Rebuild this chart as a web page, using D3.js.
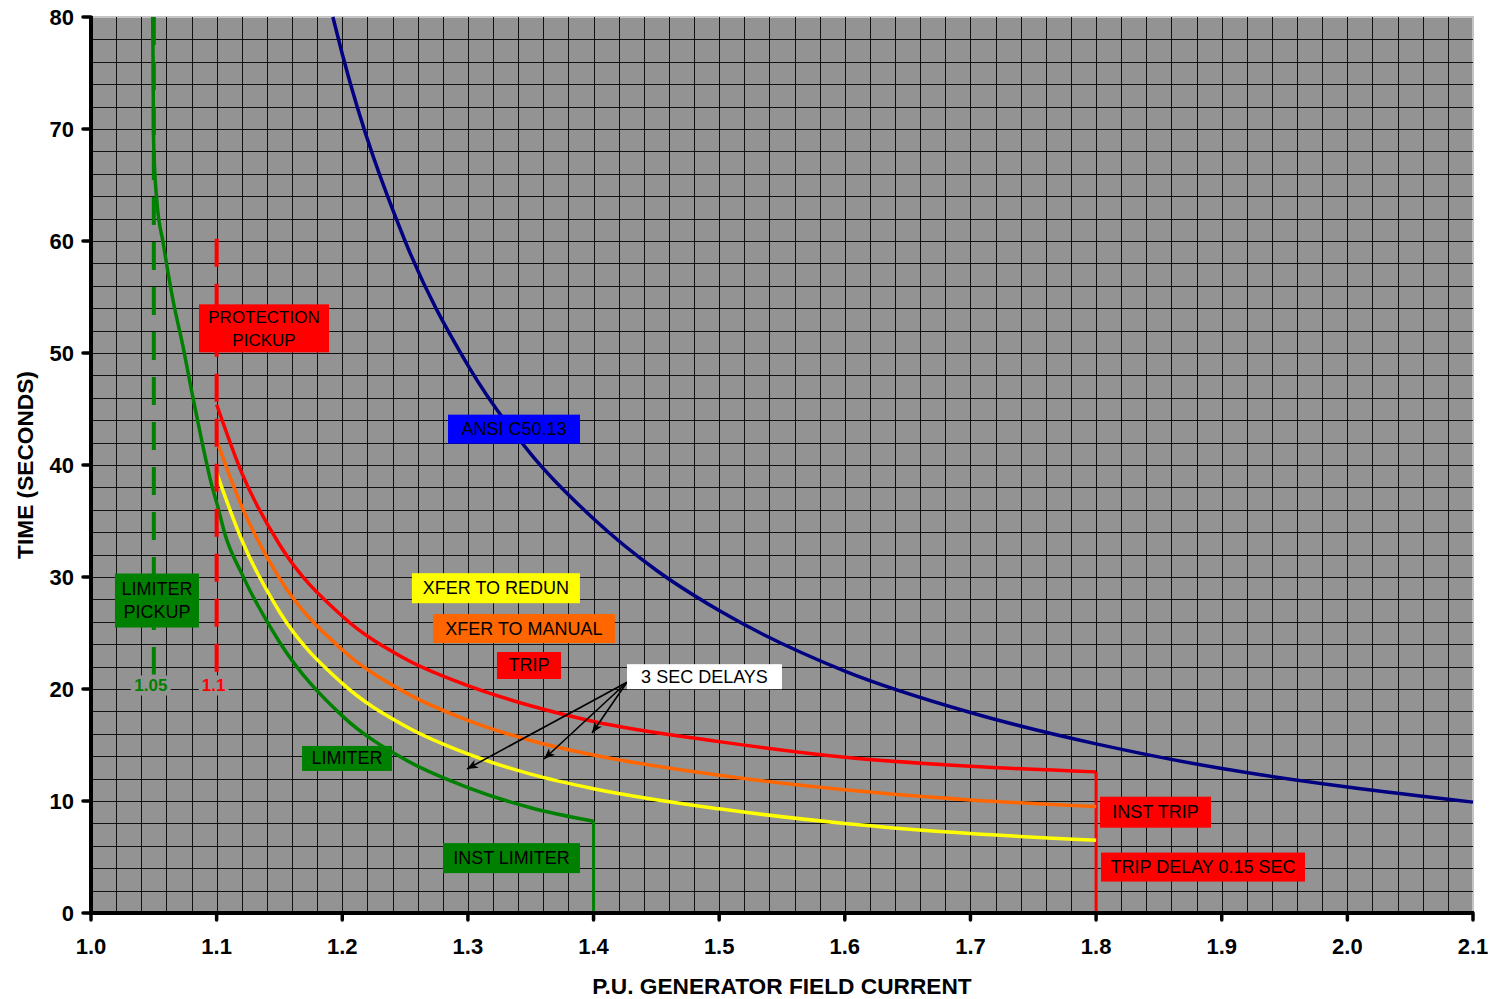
<!DOCTYPE html>
<html>
<head>
<meta charset="utf-8">
<script src="https://cdn.jsdelivr.net/npm/d3@7/dist/d3.min.js"></script>
<style>
  body { margin: 0; background: #fff; }
  text { font-family: Arial, "Liberation Sans", sans-serif; }
</style>
</head>
<body>
<svg width="1490" height="999"></svg>
<script>
// axis ticks
var xTicks = [1.0, 1.1, 1.2, 1.3, 1.4, 1.5, 1.6, 1.7, 1.8, 1.9, 2.0, 2.1];
var yTicks = [0, 10, 20, 30, 40, 50, 60, 70, 80];

// curves, [p.u. current, seconds]
var ansiC5013 = [[1.1925, 80], [1.2, 76.7], [1.25, 60.0], [1.3, 48.9], [1.35, 41.0], [1.4, 35.2],
  [1.45, 30.6], [1.5, 27.0], [1.6, 21.6], [1.7, 17.9], [1.8, 15.1], [1.9, 12.9], [2.0, 11.25], [2.1, 9.9]];
var limiter = [[1.0491, 80], [1.0494, 76], [1.0498, 69], [1.0523, 63.7], [1.0575, 59.8], [1.0653, 54.7],
  [1.0732, 50.6], [1.0801, 46.6], [1.0881, 42.2], [1.0961, 38.2], [1.1011, 36.2], [1.1067, 33.8],
  [1.12, 30.3], [1.15, 24.2], [1.2, 17.6], [1.25, 13.7], [1.3, 11.2], [1.35, 9.4], [1.4, 8.2]];
var xferRedun = [[1.1, 39.3], [1.12, 33.3], [1.15, 26.9], [1.2, 20.5], [1.25, 16.7], [1.3, 14.2],
  [1.35, 12.4], [1.4, 11.1], [1.5, 9.3], [1.6, 8.0], [1.7, 7.1], [1.8, 6.5]];
var xferManual = [[1.1, 42.2], [1.12, 36.3], [1.15, 29.9], [1.2, 23.5], [1.25, 19.7], [1.3, 17.2],
  [1.35, 15.4], [1.4, 14.1], [1.5, 12.3], [1.6, 11.0], [1.7, 10.1], [1.8, 9.5]];
var trip = [[1.1, 45.4], [1.12, 39.3], [1.15, 32.9], [1.2, 26.5], [1.25, 22.7], [1.3, 20.3],
  [1.35, 18.5], [1.4, 17.1], [1.5, 15.3], [1.6, 13.9], [1.7, 13.1], [1.8, 12.6]];

// pickup markers
var pickups = [
  { x: 1.05, top: 80, bottom: 21.3, label: "1.05", color: "#008000" },
  { x: 1.1, top: 60.2, bottom: 21.3, label: "1.1", color: "#ff0000" }
];

// text boxes (centre in data units)
var notes = [
  { lines: ["PROTECTION", "PICKUP"], x: 1.1377, y: 52.2, w: 130, h: 48, fill: "#ff0000", size: 17 },
  { lines: ["ANSI C50.13"], x: 1.3367, y: 43.2, w: 132, h: 29, fill: "#0000ff", size: 18 },
  { lines: ["LIMITER", "PICKUP"], x: 1.0525, y: 27.9, w: 84, h: 54, fill: "#008000", size: 18 },
  { lines: ["XFER TO REDUN"], x: 1.3223, y: 29.0, w: 168, h: 30, fill: "#ffff00", size: 18 },
  { lines: ["XFER TO MANUAL"], x: 1.3446, y: 25.4, w: 182, h: 29, fill: "#ff6600", size: 18 },
  { lines: ["TRIP"], x: 1.3486, y: 22.1, w: 64, h: 27, fill: "#ff0000", size: 18 },
  { lines: ["3 SEC DELAYS"], x: 1.4883, y: 21.1, w: 155, h: 25, fill: "#ffffff", size: 18 },
  { lines: ["LIMITER"], x: 1.2038, y: 13.8, w: 90, h: 25, fill: "#008000", size: 18 },
  { lines: ["INST LIMITER"], x: 1.3347, y: 4.9, w: 137, h: 30, fill: "#008000", size: 18 },
  { lines: ["INST TRIP"], x: 1.8473, y: 9.0, w: 111, h: 31, fill: "#ff0000", size: 18 },
  { lines: ["TRIP DELAY 0.15 SEC"], x: 1.8851, y: 4.1, w: 204, h: 29, fill: "#ff0000", size: 18 }
];

var arrowFrom = [1.4266, 20.6];
var arrowTo = [[1.2993, 12.86], [1.3606, 13.75], [1.3988, 16.07]];

var svg = d3.select("svg"),
    margin = { top: 17, right: 17, bottom: 86, left: 91 },
    width = 1490 - margin.left - margin.right,
    height = 999 - margin.top - margin.bottom;

var x = d3.scaleLinear().domain([1.0, 2.1]).range([0, width]);
var y = d3.scaleLinear().domain([0, 80]).range([height, 0]);

var g = svg.append("g").attr("transform", "translate(" + margin.left + "," + margin.top + ")");

g.append("rect")
  .attr("width", width)
  .attr("height", height)
  .attr("fill", "#939393")
  .attr("stroke", "#c4c4c4")
  .attr("stroke-width", 2);

// grid, 0.02 p.u. by 2 s
g.append("g").selectAll("line")
  .data(d3.range(1, 55))
  .enter().append("line")
  .attr("x1", function(d) { return Math.round(x(1 + d * 0.02)) + 0.5; })
  .attr("x2", function(d) { return Math.round(x(1 + d * 0.02)) + 0.5; })
  .attr("y1", 0).attr("y2", height)
  .attr("stroke", "#111").attr("stroke-width", 1);
g.append("g").selectAll("line")
  .data(d3.range(1, 40))
  .enter().append("line")
  .attr("y1", function(d) { return Math.round(y(d * 2)) + 0.5; })
  .attr("y2", function(d) { return Math.round(y(d * 2)) + 0.5; })
  .attr("x1", 0).attr("x2", width)
  .attr("stroke", "#111").attr("stroke-width", 1);

// curves
var line = d3.line()
  .x(function(d) { return x(d[0]); })
  .y(function(d) { return y(d[1]); })
  .curve(d3.curveMonotoneX);

var series = [
  { data: ansiC5013, color: "#000080", drop: false },
  { data: trip, color: "#ff0000", drop: true },
  { data: xferManual, color: "#ff6600", drop: false },
  { data: xferRedun, color: "#ffff00", drop: false },
  { data: limiter, color: "#008000", drop: true }
];

series.forEach(function(s) {
  g.append("path")
    .datum(s.data)
    .attr("d", line)
    .attr("fill", "none")
    .attr("stroke", s.color)
    .attr("stroke-width", 3.5);
  if (s.drop) {
    var last = s.data[s.data.length - 1];
    g.append("line")
      .attr("x1", x(last[0])).attr("x2", x(last[0]))
      .attr("y1", y(last[1])).attr("y2", y(0))
      .attr("stroke", s.color)
      .attr("stroke-width", 3);
  }
});

// pickup dashed lines
g.selectAll(".pickup")
  .data(pickups)
  .enter().append("line")
  .attr("class", "pickup")
  .attr("x1", function(d) { return x(d.x); })
  .attr("x2", function(d) { return x(d.x); })
  .attr("y1", function(d) { return y(d.top); })
  .attr("y2", function(d) { return y(d.bottom); })
  .attr("stroke", function(d) { return d.color; })
  .attr("stroke-width", 4)
  .attr("stroke-dasharray", "28,17");

var pl = g.selectAll(".plabel")
  .data(pickups)
  .enter().append("g")
  .attr("class", "plabel")
  .attr("transform", function(d) { return "translate(" + (x(d.x) - 3) + "," + (y(d.bottom) + 11) + ")"; });
pl.append("rect")
  .attr("x", function(d) { return d.label.length > 3 ? -20 : -15; })
  .attr("y", -10)
  .attr("width", function(d) { return d.label.length > 3 ? 40 : 30; })
  .attr("height", 20)
  .attr("fill", "#939393");
pl.append("text")
  .attr("text-anchor", "middle")
  .attr("y", 6)
  .attr("font-size", 17)
  .attr("font-weight", "bold")
  .attr("fill", function(d) { return d.color; })
  .text(function(d) { return d.label; });

// 3 sec delay arrows
svg.append("defs").append("marker")
  .attr("id", "head")
  .attr("viewBox", "-12 -6 14 12")
  .attr("refX", 0).attr("refY", 0)
  .attr("markerWidth", 14).attr("markerHeight", 12)
  .attr("markerUnits", "userSpaceOnUse")
  .attr("orient", "auto")
  .append("path")
  .attr("d", "M0,0L-11,-4.5L-8,0L-11,4.5Z")
  .attr("fill", "#000");

g.selectAll(".arrow")
  .data(arrowTo)
  .enter().append("line")
  .attr("class", "arrow")
  .attr("x1", x(arrowFrom[0]))
  .attr("y1", y(arrowFrom[1]))
  .attr("x2", function(d) { return x(d[0]); })
  .attr("y2", function(d) { return y(d[1]); })
  .attr("stroke", "#000")
  .attr("stroke-width", 1.6)
  .attr("marker-end", "url(#head)");

// text boxes
var nb = g.selectAll(".note")
  .data(notes)
  .enter().append("g")
  .attr("class", "note")
  .attr("transform", function(d) { return "translate(" + x(d.x) + "," + y(d.y) + ")"; });
nb.append("rect")
  .attr("x", function(d) { return -d.w / 2; })
  .attr("y", function(d) { return -d.h / 2; })
  .attr("width", function(d) { return d.w; })
  .attr("height", function(d) { return d.h; })
  .attr("fill", function(d) { return d.fill; });
nb.each(function(d) {
  var t = d3.select(this).append("text")
    .attr("text-anchor", "middle")
    .attr("font-size", d.size)
    .attr("fill", "#000");
  d.lines.forEach(function(s, i) {
    t.append("tspan")
      .attr("x", 0)
      .attr("y", 6 + (i - (d.lines.length - 1) / 2) * 23)
      .text(s);
  });
});

// axes
var xAxis = g.append("g").attr("transform", "translate(0," + height + ")");
xAxis.append("line")
  .attr("x1", -1).attr("x2", width + 1)
  .attr("stroke", "#000").attr("stroke-width", 4);
xAxis.selectAll(".tk")
  .data(xTicks)
  .enter().append("line")
  .attr("x1", function(d) { return x(d); })
  .attr("x2", function(d) { return x(d); })
  .attr("y1", 0).attr("y2", 7)
  .attr("stroke", "#000").attr("stroke-width", 3.5)
  .attr("stroke-linecap", "round");
xAxis.selectAll("text")
  .data(xTicks)
  .enter().append("text")
  .attr("x", function(d) { return x(d); })
  .attr("y", 41)
  .attr("text-anchor", "middle")
  .attr("font-size", 22)
  .attr("font-weight", "bold")
  .text(function(d) { return d.toFixed(1); });

var yAxis = g.append("g");
yAxis.append("line")
  .attr("y1", -1).attr("y2", height + 2)
  .attr("stroke", "#000").attr("stroke-width", 4);
yAxis.selectAll(".tk")
  .data(yTicks)
  .enter().append("line")
  .attr("y1", function(d) { return y(d); })
  .attr("y2", function(d) { return y(d); })
  .attr("x1", 0).attr("x2", -8)
  .attr("stroke", "#000").attr("stroke-width", 3.5)
  .attr("stroke-linecap", "round");
yAxis.selectAll("text")
  .data(yTicks)
  .enter().append("text")
  .attr("x", -17)
  .attr("y", function(d) { return y(d) + 8; })
  .attr("text-anchor", "end")
  .attr("font-size", 22)
  .attr("font-weight", "bold")
  .text(function(d) { return d; });

svg.append("text")
  .attr("x", 782)
  .attr("y", 994)
  .attr("text-anchor", "middle")
  .attr("font-size", 22.7)
  .attr("font-weight", "bold")
  .text("P.U. GENERATOR FIELD CURRENT");

svg.append("text")
  .attr("transform", "translate(33,465) rotate(-90)")
  .attr("text-anchor", "middle")
  .attr("font-size", 22.7)
  .attr("font-weight", "bold")
  .text("TIME (SECONDS)");
</script>
</body>
</html>
